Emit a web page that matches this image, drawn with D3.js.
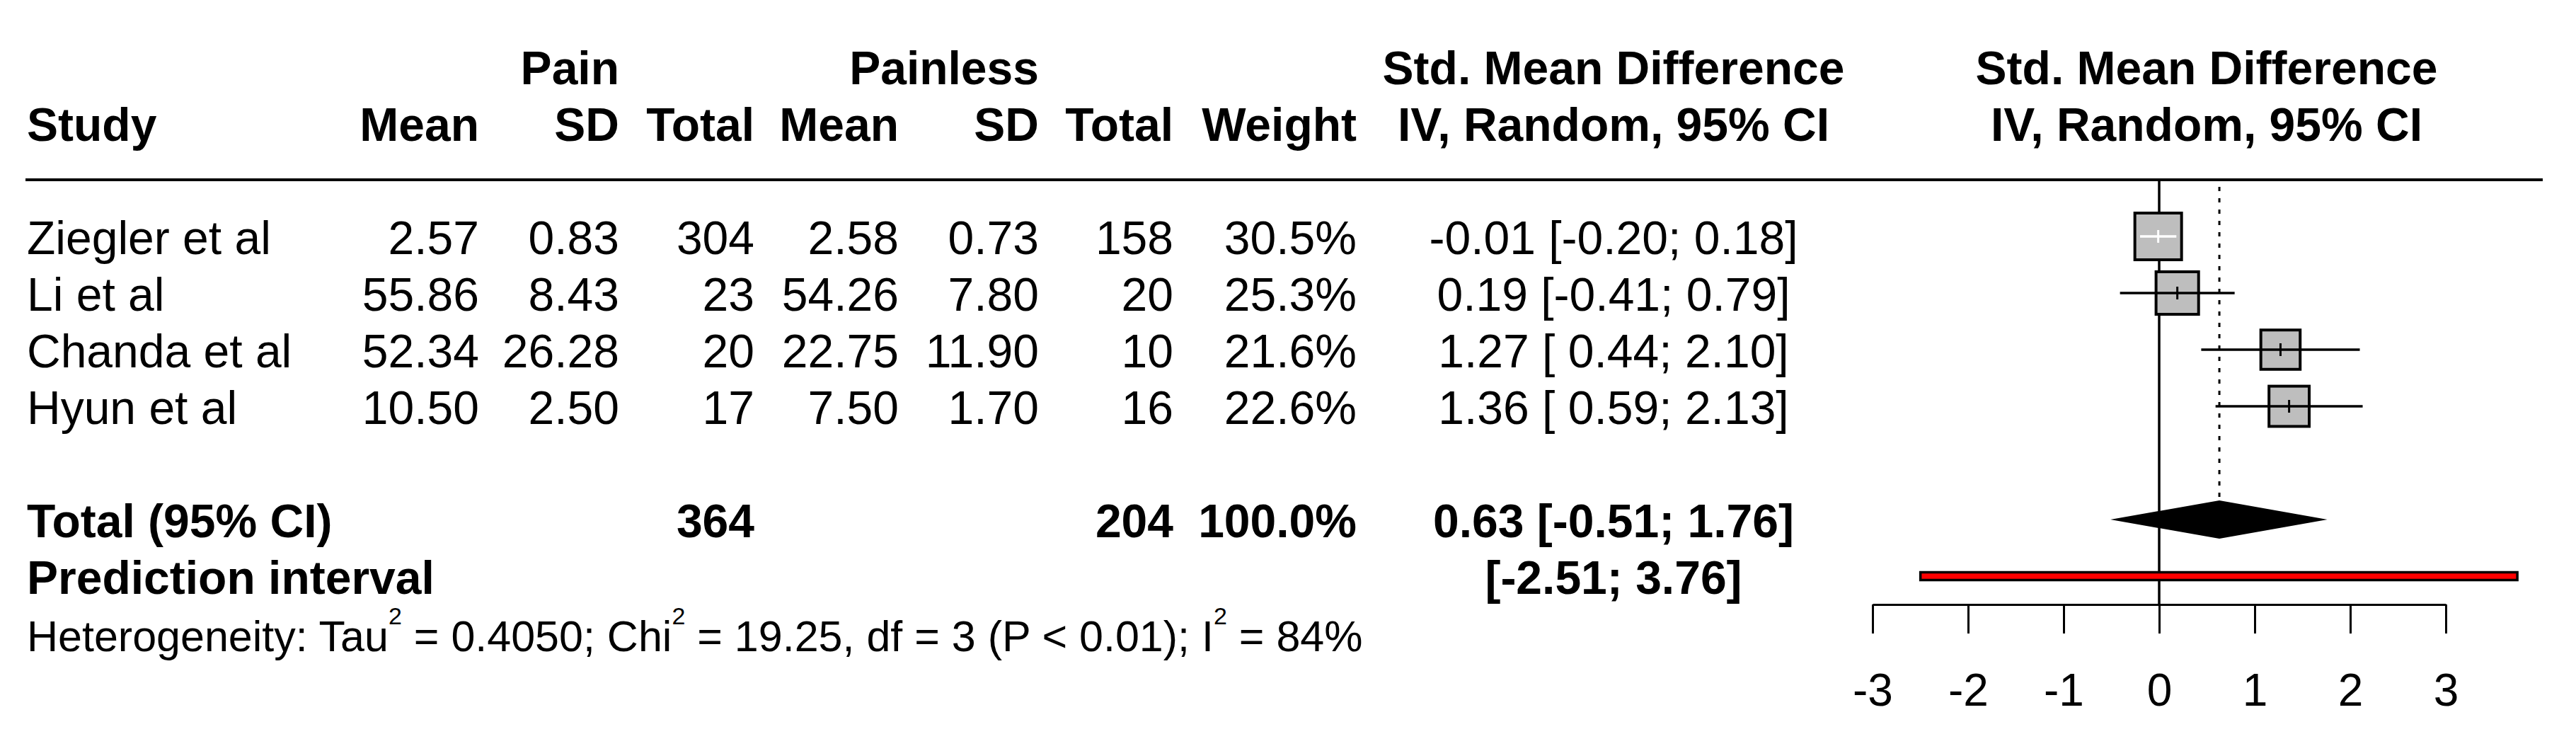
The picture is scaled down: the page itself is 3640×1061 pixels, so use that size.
<!DOCTYPE html>
<html>
<head>
<meta charset="utf-8">
<script src="https://cdn.jsdelivr.net/npm/d3@7"></script>
<style>
  body { margin: 0; background: #fff; }
  text { font-family: "Liberation Sans", Arial, sans-serif; fill: #000; white-space: pre; }
</style>
</head>
<body>
<div id="chart"></div>
<script>
// study level data
const studies = ['Ziegler et al', 'Li et al', 'Chanda et al', 'Hyun et al'];
const painMean = [2.57, 55.86, 52.34, 10.50];
const painSD = [0.83, 8.43, 26.28, 2.50];
const painN = [304, 23, 20, 17];
const painlessMean = [2.58, 54.26, 22.75, 7.50];
const painlessSD = [0.73, 7.80, 11.90, 1.70];
const painlessN = [158, 20, 10, 16];
const weights = [30.5, 25.3, 21.6, 22.6];
const smd = [-0.01, 0.19, 1.27, 1.36];
const ciLower = [-0.20, -0.41, 0.44, 0.59];
const ciUpper = [0.18, 0.79, 2.10, 2.13];

// pooled results
const totalN = [364, 204];
const totalWeight = 100.0;
const pooled = [0.63, -0.51, 1.76]; // estimate, lower, upper
const predInterval = [-2.51, 3.76];
const hetero = { tau2: '0.4050', chi2: '19.25', df: 3, p: '< 0.01', i2: '84%' };
const xTicks = [-3, -2, -1, 0, 1, 2, 3];

const W = 3640, H = 1061;
const FS = 66;

const svg = d3.select('#chart').append('svg')
  .attr('width', W)
  .attr('height', H);

svg.append('rect').attr('width', W).attr('height', H).attr('fill', '#fff');

const x = d3.scaleLinear().domain([-3, 3]).range([2646, 3456]);
const rowBase = d3.scaleLinear().domain([0, 1]).range([359, 439]);
const boxSize = d3.scaleSqrt().domain([0, 30.5]).range([0, 66]);
const mid = i => rowBase(i) - 25;

const f2 = d => d.toFixed(2);
const ciText = (e, lo, hi) => `${f2(e)} [${lo < 0 ? '' : ' '}${f2(lo)}; ${f2(hi)}]`;

// column anchors
const cols = {
  study: 38, pMean: 677, pSD: 875, pN: 1066,
  qMean: 1270, qSD: 1468, qN: 1658, weight: 1917,
  ci: 2280, plot: 3118
};

function txt(g, str, xx, yy, anchor, bold, size) {
  return g.append('text')
    .attr('x', xx).attr('y', yy)
    .attr('text-anchor', anchor || 'start')
    .attr('font-weight', bold ? 'bold' : 'normal')
    .attr('font-size', size || FS)
    .text(str);
}

// header
const head = svg.append('g');
txt(head, 'Pain', cols.pSD, 119, 'end', true);
txt(head, 'Painless', cols.qSD, 119, 'end', true);
txt(head, 'Std. Mean Difference', cols.ci, 119, 'middle', true);
txt(head, 'Std. Mean Difference', cols.plot, 119, 'middle', true);
txt(head, 'Study', cols.study, 199, 'start', true);
txt(head, 'Mean', cols.pMean, 199, 'end', true);
txt(head, 'SD', cols.pSD, 199, 'end', true);
txt(head, 'Total', cols.pN, 199, 'end', true);
txt(head, 'Mean', cols.qMean, 199, 'end', true);
txt(head, 'SD', cols.qSD, 199, 'end', true);
txt(head, 'Total', cols.qN, 199, 'end', true);
txt(head, 'Weight', cols.weight, 199, 'end', true);
txt(head, 'IV, Random, 95% CI', cols.ci, 199, 'middle', true);
txt(head, 'IV, Random, 95% CI', cols.plot, 199, 'middle', true);

head.append('line')
  .attr('x1', 36).attr('x2', 3593)
  .attr('y1', 254).attr('y2', 254)
  .attr('stroke', '#000').attr('stroke-width', 4);

// study rows
const rows = svg.append('g');
studies.forEach((s, i) => {
  const y = rowBase(i);
  txt(rows, s, cols.study, y, 'start');
  txt(rows, f2(painMean[i]), cols.pMean, y, 'end');
  txt(rows, f2(painSD[i]), cols.pSD, y, 'end');
  txt(rows, painN[i], cols.pN, y, 'end');
  txt(rows, f2(painlessMean[i]), cols.qMean, y, 'end');
  txt(rows, f2(painlessSD[i]), cols.qSD, y, 'end');
  txt(rows, painlessN[i], cols.qN, y, 'end');
  txt(rows, weights[i].toFixed(1) + '%', cols.weight, y, 'end');
  txt(rows, ciText(smd[i], ciLower[i], ciUpper[i]), cols.ci, y, 'middle');
});

// totals
const yTot = rowBase(5), yPred = rowBase(6), yHet = 920;
txt(rows, 'Total (95% CI)', cols.study, yTot, 'start', true);
txt(rows, totalN[0], cols.pN, yTot, 'end', true);
txt(rows, totalN[1], cols.qN, yTot, 'end', true);
txt(rows, totalWeight.toFixed(1) + '%', cols.weight, yTot, 'end', true);
txt(rows, ciText(pooled[0], pooled[1], pooled[2]), cols.ci, yTot, 'middle', true);
txt(rows, 'Prediction interval', cols.study, yPred, 'start', true);
txt(rows, `[${f2(predInterval[0])}; ${f2(predInterval[1])}]`, cols.ci, yPred, 'middle', true);

// heterogeneity line with superscripts
const het = rows.append('text')
  .attr('x', cols.study).attr('y', yHet)
  .attr('font-size', 61);
const parts = [
  ['Heterogeneity: Tau', false], ['2', true],
  [` = ${hetero.tau2}; Chi`, false], ['2', true],
  [` = ${hetero.chi2}, df = ${hetero.df} (P ${hetero.p}); I`, false], ['2', true],
  [` = ${hetero.i2}`, false]
];
let shift = 0;
parts.forEach(([t, sup]) => {
  const dy = (sup ? -38 : 0) - shift;
  shift = sup ? -38 : 0;
  het.append('tspan')
    .attr('font-size', sup ? 34 : 61)
    .attr('dy', dy)
    .text(t);
});

// forest plot
const plot = svg.append('g');

plot.append('line')
  .attr('x1', x(0)).attr('x2', x(0))
  .attr('y1', 254).attr('y2', 854)
  .attr('stroke', '#000').attr('stroke-width', 3.5);

plot.append('line')
  .attr('x1', x(pooled[0])).attr('x2', x(pooled[0]))
  .attr('y1', 264).attr('y2', mid(5) - 27)
  .attr('stroke', '#000').attr('stroke-width', 3)
  .attr('stroke-dasharray', '6 10');

const study = plot.selectAll('g.study')
  .data(studies.map((s, i) => ({ s, i, w: weights[i], e: smd[i], lo: ciLower[i], hi: ciUpper[i] })))
  .enter().append('g').attr('class', 'study');

study.append('rect')
  .attr('x', d => x(d.e) - boxSize(d.w) / 2)
  .attr('y', d => mid(d.i) - boxSize(d.w) / 2)
  .attr('width', d => boxSize(d.w))
  .attr('height', d => boxSize(d.w))
  .attr('fill', '#bebebe')
  .attr('stroke', '#000')
  .attr('stroke-width', 4);

// CI inside the box is drawn white
const inside = d => x(d.lo) > x(d.e) - boxSize(d.w) / 2 && x(d.hi) < x(d.e) + boxSize(d.w) / 2;

study.append('line')
  .attr('x1', d => x(d.lo)).attr('x2', d => x(d.hi))
  .attr('y1', d => mid(d.i)).attr('y2', d => mid(d.i))
  .attr('stroke', d => inside(d) ? '#fff' : '#000')
  .attr('stroke-width', 3.5);

study.append('line')
  .attr('x1', d => x(d.e)).attr('x2', d => x(d.e))
  .attr('y1', d => mid(d.i) - 9).attr('y2', d => mid(d.i) + 9)
  .attr('stroke', d => inside(d) ? '#fff' : '#000')
  .attr('stroke-width', 3);

// pooled diamond
const cy = mid(5);
plot.append('path')
  .attr('d', `M${x(pooled[1])},${cy} L${x(pooled[0])},${cy - 27} L${x(pooled[2])},${cy} L${x(pooled[0])},${cy + 27} Z`)
  .attr('fill', '#000');

// prediction interval bar
plot.append('rect')
  .attr('x', x(predInterval[0]) + 1.5)
  .attr('y', mid(6) - 5.5)
  .attr('width', x(predInterval[1]) - x(predInterval[0]) - 3)
  .attr('height', 11)
  .attr('fill', '#ff0000')
  .attr('stroke', '#000')
  .attr('stroke-width', 3.5);

// x axis
const axis = plot.append('g')
  .attr('transform', 'translate(0,854)')
  .call(d3.axisBottom(x).tickValues(xTicks).tickSize(41).tickSizeOuter(0).tickPadding(57)
    .tickFormat(d => d < 0 ? '-' + Math.abs(d) : String(d)));
axis.select('.domain').attr('stroke', '#000').attr('stroke-width', 3);
axis.selectAll('.tick line').attr('stroke', '#000').attr('stroke-width', 3);
axis.selectAll('.tick text')
  .attr('font-size', 64)
  .attr('font-family', '"Liberation Sans", Arial, sans-serif')
  .attr('fill', '#000');
</script>
</body>
</html>
